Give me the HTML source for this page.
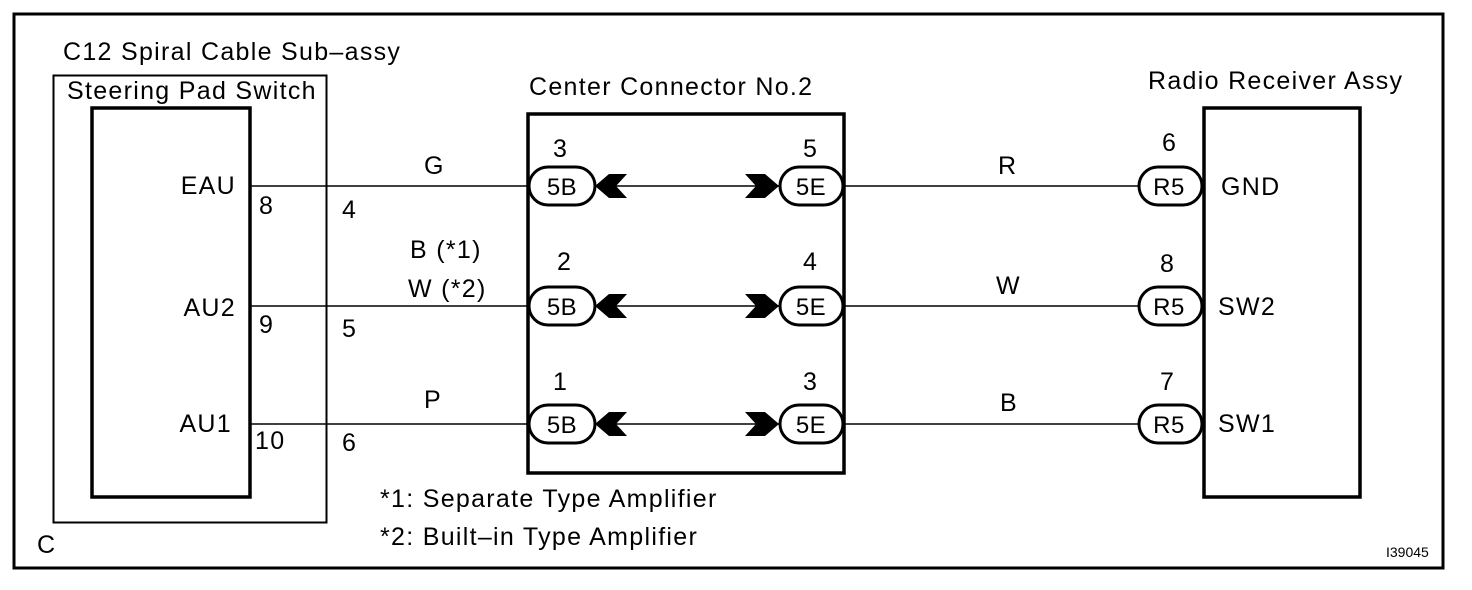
<!DOCTYPE html>
<html><head><style>body{margin:0;background:#fff}svg{display:block}text{font-family:"Liberation Sans",Arial,sans-serif;fill:#000}</style></head><body>
<svg width="1472" height="590" viewBox="0 0 1472 590" xmlns="http://www.w3.org/2000/svg">
<g fill="none" stroke="#000">
<rect x="14" y="14" width="1429" height="554" stroke-width="3"/>
<rect x="53.5" y="75.5" width="273" height="447" stroke-width="2"/>
<rect x="92" y="108" width="158" height="389" stroke-width="3.5"/>
<rect x="528" y="114" width="316" height="359" stroke-width="3.5"/>
<rect x="1204" y="108" width="156" height="389" stroke-width="3.5"/>
<g stroke-width="1.5">
<line x1="250" y1="186" x2="530" y2="186"/><line x1="250" y1="306" x2="530" y2="306"/><line x1="250" y1="424" x2="530" y2="424"/>
<line x1="600" y1="186" x2="780" y2="186"/><line x1="600" y1="306" x2="780" y2="306"/><line x1="600" y1="424" x2="780" y2="424"/>
<line x1="844" y1="186" x2="1140" y2="186"/><line x1="844" y1="306" x2="1140" y2="306"/><line x1="844" y1="424" x2="1140" y2="424"/>
</g>
<g stroke-width="3" fill="#fff">
<rect x="529" y="167" width="66" height="38" rx="19"/><rect x="780" y="167" width="63" height="38" rx="19"/><rect x="1139" y="167" width="63" height="38" rx="19"/>
<rect x="529" y="287" width="66" height="38" rx="19"/><rect x="780" y="287" width="63" height="38" rx="19"/><rect x="1139" y="287" width="63" height="38" rx="19"/>
<rect x="529" y="405" width="66" height="38" rx="19"/><rect x="780" y="405" width="63" height="38" rx="19"/><rect x="1139" y="405" width="63" height="38" rx="19"/>
</g>
</g>
<g fill="#000">
<path d="M595 186 L609 174 L627 174 L616 186 L627 198 L609 198 Z"/>
<path d="M779 186 L765 174 L745 174 L756 186 L745 198 L765 198 Z"/>
<path d="M595 306 L609 294 L627 294 L616 306 L627 318 L609 318 Z"/>
<path d="M779 306 L765 294 L745 294 L756 306 L745 318 L765 318 Z"/>
<path d="M595 424 L609 412 L627 412 L616 424 L627 436 L609 436 Z"/>
<path d="M779 424 L765 412 L745 412 L756 424 L745 436 L765 436 Z"/>
</g>
<g font-size="25" letter-spacing="1.3">
<text x="63" y="60">C12 Spiral Cable Sub–assy</text>
<text x="67" y="99">Steering Pad Switch</text>
<text x="529" y="95">Center Connector No.2</text>
<text x="1148" y="89">Radio Receiver Assy</text>
<text x="236" y="194" text-anchor="end">EAU</text>
<text x="236" y="316" text-anchor="end">AU2</text>
<text x="232" y="432" text-anchor="end">AU1</text>
<text x="259" y="214">8</text><text x="342" y="218">4</text>
<text x="259" y="333">9</text><text x="342" y="337">5</text>
<text x="255" y="449">10</text><text x="342" y="451">6</text>
<text x="424" y="174">G</text>
<text x="410" y="258">B (*1)</text><text x="408" y="297">W (*2)</text>
<text x="424" y="408">P</text>
<text x="998" y="174">R</text><text x="996" y="294">W</text><text x="1000" y="411">B</text>
<text x="553" y="157">3</text><text x="803" y="157">5</text>
<text x="557" y="270">2</text><text x="803" y="270">4</text>
<text x="553" y="390">1</text><text x="803" y="390">3</text>
<text x="1162" y="151">6</text><text x="1160" y="272">8</text><text x="1160" y="390">7</text>
<text x="1221" y="195">GND</text><text x="1218" y="315">SW2</text><text x="1218" y="432">SW1</text>
<text x="380" y="507">*1: Separate Type Amplifier</text>
<text x="380" y="545">*2: Built–in Type Amplifier</text>
<text x="37" y="553">C</text>
</g>
<g font-size="24" text-anchor="middle" letter-spacing="0.5">
<text x="562" y="195">5B</text><text x="811" y="195">5E</text><text x="1169" y="195">R5</text>
<text x="562" y="315">5B</text><text x="811" y="315">5E</text><text x="1169" y="315">R5</text>
<text x="562" y="433">5B</text><text x="811" y="433">5E</text><text x="1169" y="433">R5</text>
</g>
<text x="1386" y="557" font-size="14">I39045</text>
</svg>
</body></html>
